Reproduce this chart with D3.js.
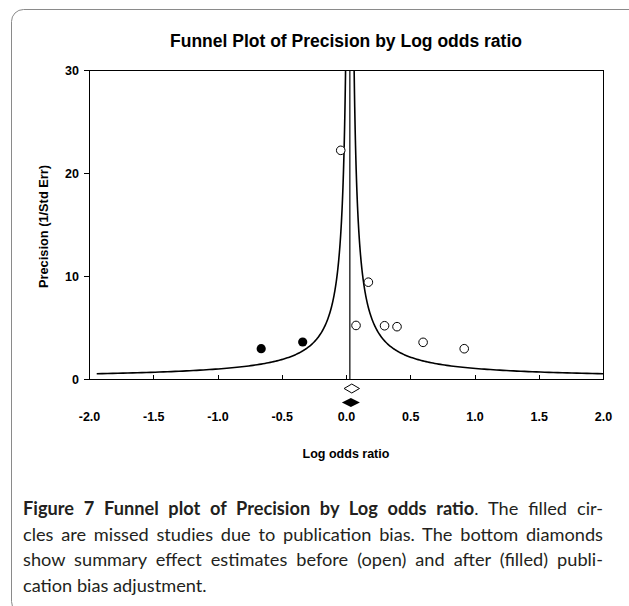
<!DOCTYPE html>
<html lang="en">
<head>
<meta charset="UTF-8">
<title>Funnel Plot of Precision by Log odds ratio</title>
<style>
  body { margin: 0; background: #fff; }
  svg { display: block; }
  .axis text { font: bold 12.5px "Liberation Sans", Arial, sans-serif; fill: #000; }
  .axis line { stroke: #000; shape-rendering: crispEdges; }
  .caption { font-family: Lato, "Open Sans", sans-serif; font-size: 18.2px; fill: #231f20; }
</style>
</head>
<body>
<svg id="chart" width="629" height="606"></svg>
<script src="https://d3js.org/d3.v7.min.js"></script>
<script>
// observed studies (open circles)
const observedLogOR = [-0.041, 0.078, 0.174, 0.300, 0.397, 0.600, 0.920];
const observedPrecision = [22.2, 5.2, 9.4, 5.17, 5.08, 3.56, 2.94];
// imputed (missing) studies (filled circles)
const imputedLogOR = [-0.660, -0.337];
const imputedPrecision = [2.94, 3.59];
// summary estimates: [low, point, high]
const summaryBefore = [-0.015, 0.045, 0.105];
const summaryAfter = [-0.032, 0.038, 0.108];
const pooledLogOR = 0.03;     // vertical line / funnel centre
const funnelWidth = 1.0;      // limits = pooled +/- funnelWidth / precision

const xTicks = [-2.0, -1.5, -1.0, -0.5, 0.0, 0.5, 1.0, 1.5, 2.0];
const yTicks = [0, 10, 20, 30];

const captionBold = "Figure 7 Funnel plot of Precision by Log odds ratio";
const captionLines = [
  ". The filled cir-",
  "cles are missed studies due to publication bias. The bottom diamonds",
  "show summary effect estimates before (open) and after (filled) publi-",
  "cation bias adjustment."
];

const svg = d3.select("#chart");
const plot = { left: 89, right: 603, top: 70, bottom: 379 };

// card frame
svg.append("rect")
  .attr("x", 11.5).attr("y", 9.5)
  .attr("width", 630).attr("height", 604)
  .attr("rx", 12)
  .attr("fill", "none")
  .attr("stroke", "#8a8a8a")
  .attr("stroke-width", 1);

const x = d3.scaleLinear().domain([-2, 2]).range([plot.left, plot.right]);
const y = d3.scaleLinear().domain([0, 30]).range([plot.bottom, plot.top]);

// title
svg.append("text")
  .attr("x", (plot.left + plot.right) / 2)
  .attr("y", 47)
  .attr("text-anchor", "middle")
  .style("font", "bold 17.5px 'Liberation Sans', Arial, sans-serif")
  .text("Funnel Plot of Precision by Log odds ratio");

svg.append("defs").append("clipPath").attr("id", "clip")
  .append("rect")
  .attr("x", plot.left).attr("y", plot.top)
  .attr("width", plot.right - plot.left).attr("height", plot.bottom - plot.top);

// funnel limits
const pMin = funnelWidth / (2 - pooledLogOR);
const precs = d3.range(0, 201).map(i => pMin * Math.pow(40 / pMin, i / 200));
const funnel = d3.line().x(d => x(d[0])).y(d => y(d[1]));
const g = svg.append("g").attr("clip-path", "url(#clip)");
[-1, 1].forEach(side => {
  g.append("path")
    .datum(precs.map(p => [pooledLogOR + side * funnelWidth / p, p]))
    .attr("d", funnel)
    .attr("fill", "none")
    .attr("stroke", "#000")
    .attr("stroke-width", 1.6);
});

// pooled estimate line
g.append("line")
  .attr("x1", x(pooledLogOR)).attr("x2", x(pooledLogOR))
  .attr("y1", plot.top).attr("y2", plot.bottom)
  .attr("stroke", "#000").attr("stroke-width", 1.2);

// frame
svg.append("rect")
  .attr("x", plot.left).attr("y", plot.top)
  .attr("width", plot.right - plot.left).attr("height", plot.bottom - plot.top)
  .attr("fill", "none").attr("stroke", "#000").attr("stroke-width", 1)
  .attr("shape-rendering", "crispEdges");

// axes
const xAxis = d3.axisBottom(x).tickValues(xTicks)
  .tickFormat(d => d.toFixed(1))
  .tickSizeInner(-4).tickSizeOuter(0).tickPadding(33);
svg.append("g").attr("class", "axis")
  .attr("transform", `translate(0,${plot.bottom})`)
  .call(xAxis)
  .call(s => s.select(".domain").remove());

const yAxis = d3.axisLeft(y).tickValues(yTicks)
  .tickSizeInner(5).tickSizeOuter(0).tickPadding(5);
svg.append("g").attr("class", "axis")
  .attr("transform", `translate(${plot.left},0)`)
  .call(yAxis)
  .call(s => s.select(".domain").remove());

// axis titles
svg.append("text")
  .attr("x", (plot.left + plot.right) / 2)
  .attr("y", 458)
  .attr("text-anchor", "middle")
  .style("font", "bold 12.5px 'Liberation Sans', Arial, sans-serif")
  .text("Log odds ratio");

svg.append("text")
  .attr("transform", `translate(48,${(plot.top + plot.bottom) / 2 + 2}) rotate(-90)`)
  .attr("text-anchor", "middle")
  .style("font", "bold 12.8px 'Liberation Sans', Arial, sans-serif")
  .text("Precision (1/Std Err)");

// points
svg.append("g").selectAll("circle")
  .data(d3.zip(observedLogOR, observedPrecision))
  .join("circle")
  .attr("cx", d => x(d[0])).attr("cy", d => y(d[1]))
  .attr("r", 4.3)
  .attr("fill", "#fff").attr("stroke", "#000").attr("stroke-width", 1);

svg.append("g").selectAll("circle")
  .data(d3.zip(imputedLogOR, imputedPrecision))
  .join("circle")
  .attr("cx", d => x(d[0])).attr("cy", d => y(d[1]))
  .attr("r", 4.6)
  .attr("fill", "#000");

// summary diamonds
function diamond(s, cy) {
  return `M${x(s[0])},${cy} L${x(s[1])},${cy - 4.5} L${x(s[2])},${cy} L${x(s[1])},${cy + 4.5} Z`;
}
svg.append("path").attr("d", diamond(summaryBefore, plot.bottom + 9.5))
  .attr("fill", "#fff").attr("stroke", "#000").attr("stroke-width", 1);
svg.append("path").attr("d", diamond(summaryAfter, plot.bottom + 23.5))
  .attr("fill", "#000");

// caption
const capLeft = 23, capRight = 603, capTop = 515, capStep = 25.7;
captionLines.forEach((line, i) => {
  const t = svg.append("text").attr("class", "caption")
    .attr("x", capLeft).attr("y", capTop + i * capStep);
  if (i === 0) {
    t.append("tspan").style("font-weight", "bold").text(captionBold);
  }
  t.append("tspan").text(line);
  if (i < captionLines.length - 1) {
    const full = (i === 0 ? captionBold : "") + line;
    const spaces = (full.match(/ /g) || []).length;
    const w = t.node().getComputedTextLength();
    t.style("word-spacing", ((capRight - capLeft - w) / spaces) + "px");
  }
});
</script>
</body>
</html>
